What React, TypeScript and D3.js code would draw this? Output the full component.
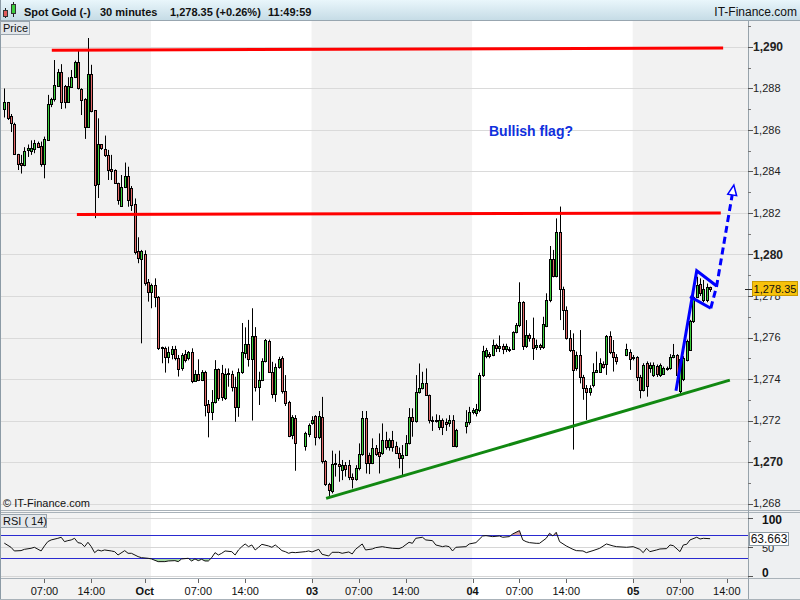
import React from 'react'
import * as d3 from 'd3'

// one 30 minute candle: open, high, low, close (null = no trading in that slot)
type Candle = [number, number, number, number] | null

const sep29: Candle[] = [
  [1287.0, 1288.0, 1286.6, 1287.33], [1287.33, 1287.35, 1286.48, 1286.6], [1286.67, 1286.77, 1285.9, 1286.35],
  [1286.3, 1286.35, 1284.8, 1284.83], [1284.83, 1284.85, 1284.07, 1284.36], [1284.4, 1284.8, 1283.9, 1284.3],
  [1284.3, 1285.17, 1284.25, 1285.0], [1285.04, 1285.3, 1284.7, 1285.15], [1285.0, 1285.5, 1284.8, 1285.15],
  [1285.1, 1285.52, 1284.88, 1285.36], [1285.36, 1285.44, 1285.15, 1285.2], [1285.23, 1285.44, 1284.23, 1284.35],
  [1284.35, 1285.68, 1283.67, 1285.55], [1285.52, 1287.69, 1285.47, 1287.24], [1287.25, 1287.55, 1287.1, 1287.5],
  [1287.5, 1289.37, 1287.37, 1288.17], [1288.14, 1288.94, 1288.1, 1288.81], [1288.81, 1289.17, 1287.01, 1287.37],
  [1288.14, 1288.17, 1287.04, 1287.37], [1287.37, 1288.54, 1287.33, 1288.12], [1288.09, 1288.89, 1288.05, 1288.54],
  [1288.54, 1289.34, 1288.5, 1289.26], [1289.26, 1289.9, 1287.95, 1288.01], [1287.98, 1288.01, 1286.72, 1287.42],
  [1287.5, 1287.53, 1285.57, 1286.13], [1286.16, 1290.43, 1286.1, 1288.7], [1288.7, 1289.14, 1286.85, 1286.9],
  [1286.96, 1286.96, 1281.75, 1283.35], [1283.38, 1286.56, 1282.72, 1285.3], [1285.3, 1285.32, 1285.04, 1285.15],
  [1285.1, 1285.73, 1284.7, 1284.78], [1284.78, 1285.04, 1283.59, 1284.09], [1284.12, 1284.8, 1283.59, 1284.04],
  [1284.07, 1284.1, 1283.4, 1283.46], [1283.43, 1283.46, 1282.4, 1282.63], [1282.35, 1283.83, 1282.3, 1283.27],
  [1283.24, 1284.43, 1283.2, 1283.79], [1283.79, 1284.23, 1282.3, 1282.63], [1283.2, 1283.3, 1282.1, 1282.4],
  [1282.44, 1282.7, 1280.0, 1280.14], [1280.19, 1280.83, 1279.58, 1279.82], [1279.77, 1280.22, 1275.72, 1280.19],
]

const oct2: Candle[] = [
  [1280.03, 1280.2, 1278.5, 1278.61], [1278.66, 1278.82, 1277.73, 1278.18], [1278.18, 1278.6, 1277.41, 1278.52],
  [1278.52, 1278.85, 1277.46, 1277.97], [1277.97, 1278.0, 1275.4, 1275.48], [1275.55, 1275.56, 1274.76, 1275.5],
  [1275.48, 1275.56, 1274.31, 1275.08], [1275.08, 1275.56, 1274.76, 1275.3], [1275.23, 1275.59, 1274.95, 1275.43],
  [1275.45, 1275.6, 1274.9, 1275.0], [1275.0, 1275.16, 1274.12, 1274.47], [1274.52, 1275.25, 1274.4, 1275.14],
  [1275.19, 1275.4, 1274.8, 1274.92], [1275.0, 1275.35, 1274.9, 1275.29], [1275.32, 1275.48, 1273.8, 1273.92],
  [1273.92, 1274.43, 1273.87, 1274.22], [1274.22, 1274.95, 1273.9, 1273.95], [1273.95, 1274.43, 1273.9, 1274.32],
  [1274.32, 1274.4, 1272.2, 1272.75], [1272.8, 1272.99, 1271.19, 1272.43], [1272.43, 1273.47, 1272.02, 1272.87],
  [1272.87, 1274.91, 1272.82, 1274.48], [1274.48, 1274.51, 1272.95, 1273.07], [1274.3, 1274.68, 1272.95, 1273.15],
  [1273.07, 1274.51, 1272.99, 1274.22], [1274.3, 1274.51, 1273.63, 1274.22], [1274.26, 1274.4, 1273.4, 1273.63],
  [1273.6, 1274.11, 1271.94, 1272.63], [1272.63, 1274.51, 1272.18, 1274.32], [1274.32, 1276.7, 1274.25, 1275.28],
  [1275.24, 1276.49, 1275.0, 1275.69], [1275.69, 1276.85, 1274.6, 1274.95], [1274.95, 1277.41, 1272.0, 1276.08],
  [1276.08, 1276.5, 1273.4, 1273.63], [1273.63, 1274.35, 1272.75, 1273.95], [1273.95, 1275.0, 1273.9, 1274.88],
  [1274.88, 1275.93, 1274.8, 1275.88], [1275.83, 1275.9, 1274.3, 1274.35], [1274.35, 1274.83, 1273.07, 1273.3],
  [1273.3, 1274.75, 1272.9, 1274.6], [1274.6, 1275.07, 1274.5, 1274.95], [1275.0, 1275.1, 1273.3, 1273.44],
  [1273.44, 1274.19, 1272.7, 1272.83], [1272.91, 1272.95, 1271.2, 1271.25], [1271.3, 1272.26, 1271.1, 1272.18],
  [1272.13, 1272.26, 1269.58, 1270.9], null, null,
]

const oct3: Candle[] = [
  [1270.79, 1271.46, 1270.55, 1271.38], [1271.35, 1271.86, 1271.2, 1271.78], [1271.86, 1272.21, 1271.8, 1272.02],
  [1272.21, 1272.26, 1270.8, 1271.19], [1271.2, 1272.46, 1271.1, 1272.22], [1272.15, 1273.14, 1269.93, 1270.06],
  [1270.06, 1270.1, 1268.85, 1268.92], [1268.92, 1269.0, 1268.3, 1268.65], [1268.62, 1270.55, 1268.49, 1269.93],
  [1269.9, 1270.4, 1269.3, 1269.95], [1269.93, 1270.55, 1269.05, 1269.82], [1269.6, 1270.1, 1269.13, 1269.85],
  [1269.85, 1270.0, 1269.3, 1269.65], [1269.88, 1270.1, 1269.13, 1269.26], [1269.26, 1269.45, 1268.73, 1269.18],
  [1269.18, 1269.85, 1269.1, 1269.73], [1269.7, 1270.9, 1269.6, 1270.38], [1270.38, 1272.46, 1270.3, 1272.13],
  [1272.13, 1272.46, 1269.45, 1269.97], [1270.34, 1270.45, 1269.42, 1269.97], [1269.97, 1271.14, 1269.9, 1270.66],
  [1270.66, 1270.82, 1270.3, 1270.38], [1270.5, 1271.38, 1269.45, 1270.29], [1270.42, 1271.86, 1270.35, 1271.06],
  [1271.06, 1271.46, 1270.6, 1270.74], [1270.74, 1271.14, 1270.55, 1271.06], [1271.06, 1271.5, 1270.5, 1270.74],
  [1270.77, 1270.98, 1270.4, 1270.45], [1270.45, 1270.7, 1269.7, 1270.18], [1270.18, 1270.82, 1269.37, 1270.34],
  [1270.34, 1271.3, 1270.3, 1270.9], [1270.9, 1272.6, 1270.85, 1272.15], [1272.15, 1272.59, 1271.22, 1271.97],
  [1271.97, 1274.19, 1271.9, 1273.39], [1273.39, 1274.75, 1273.3, 1273.55], [1273.55, 1274.35, 1273.5, 1273.79],
  [1273.79, 1274.51, 1273.2, 1273.23], [1273.23, 1273.25, 1271.86, 1272.05], [1272.05, 1272.2, 1271.5, 1272.0],
  [1272.0, 1272.3, 1271.9, 1272.05], [1271.67, 1272.26, 1271.54, 1272.02], [1272.02, 1272.1, 1271.3, 1271.67],
  [1271.94, 1272.1, 1271.5, 1271.83], [1271.86, 1272.26, 1271.7, 1272.02], [1272.02, 1272.26, 1270.74, 1270.79],
  [1270.79, 1271.6, 1270.7, 1271.54], null, null,
]

const oct4: Candle[] = [
  [1271.73, 1272.5, 1271.38, 1271.94], [1271.94, 1272.66, 1271.8, 1272.42], [1272.42, 1272.6, 1272.3, 1272.5],
  [1272.34, 1272.8, 1272.2, 1272.55], [1272.5, 1274.3, 1272.4, 1274.19], [1274.19, 1275.6, 1274.1, 1275.36],
  [1275.1, 1275.5, 1275.0, 1275.4], [1275.2, 1275.3, 1275.0, 1275.1], [1275.15, 1275.9, 1275.1, 1275.64],
  [1275.64, 1275.7, 1275.3, 1275.48], [1275.48, 1276.1, 1275.3, 1275.6], [1275.6, 1275.7, 1275.2, 1275.45],
  [1275.45, 1275.7, 1275.3, 1275.6], [1275.45, 1275.55, 1275.3, 1275.45], [1275.45, 1276.3, 1275.4, 1276.25],
  [1276.25, 1276.7, 1276.2, 1276.6], [1276.6, 1278.66, 1276.5, 1277.7], [1277.7, 1277.75, 1275.4, 1275.6],
  [1275.6, 1276.84, 1275.5, 1276.12], [1276.12, 1276.2, 1275.8, 1275.96], [1275.99, 1276.96, 1274.92, 1275.48],
  [1275.53, 1275.9, 1275.4, 1275.64], [1275.64, 1275.7, 1275.4, 1275.53], [1275.53, 1277.0, 1275.45, 1276.63],
  [1276.55, 1278.13, 1276.5, 1277.81], [1277.81, 1280.41, 1277.7, 1279.77], [1279.77, 1280.22, 1278.9, 1278.98],
  [1278.98, 1281.74, 1278.9, 1281.07], [1281.07, 1282.31, 1276.84, 1278.34], [1278.34, 1278.45, 1276.36, 1277.33],
  [1277.33, 1277.5, 1275.9, 1275.96], [1275.96, 1276.36, 1275.3, 1275.4], [1275.4, 1276.2, 1270.6, 1274.44],
  [1274.52, 1275.32, 1274.4, 1275.16], [1275.16, 1276.36, 1273.79, 1274.08], [1274.08, 1274.2, 1273.0, 1273.55],
  [1273.55, 1273.71, 1272.03, 1273.39], [1273.39, 1273.7, 1273.2, 1273.55], [1273.71, 1274.76, 1273.6, 1274.36],
  [1274.36, 1275.32, 1274.3, 1274.44], [1274.36, 1275.0, 1274.3, 1274.79], [1274.73, 1274.85, 1274.5, 1274.6],
  [1274.73, 1276.12, 1274.2, 1276.09], [1276.09, 1276.3, 1275.2, 1275.29], [1275.29, 1275.88, 1274.36, 1275.05],
  [1275.05, 1275.2, 1274.7, 1274.88], null, null,
]

const oct5: Candle[] = [
  [1275.16, 1275.7, 1275.1, 1275.43], [1275.32, 1275.43, 1274.44, 1274.95], [1275.08, 1275.16, 1274.9, 1275.0],
  [1275.08, 1275.1, 1273.9, 1274.08], [1274.12, 1274.2, 1273.07, 1273.47], [1273.47, 1274.76, 1273.4, 1274.68],
  [1274.79, 1274.85, 1273.15, 1273.67], [1274.52, 1274.8, 1274.3, 1274.68], [1274.2, 1274.8, 1274.1, 1274.68],
  [1274.63, 1274.7, 1274.1, 1274.25], [1274.2, 1274.75, 1274.1, 1274.68], [1274.25, 1274.6, 1274.2, 1274.52],
  [1274.52, 1274.6, 1274.4, 1274.5], [1274.52, 1275.2, 1274.45, 1275.08], [1275.05, 1275.69, 1275.0, 1275.16],
  [1275.16, 1275.2, 1274.1, 1274.2], [1273.4, 1275.0, 1273.3, 1274.95], [1274.0, 1275.1, 1273.9, 1275.0],
  [1274.92, 1275.9, 1274.85, 1275.85], [1275.4, 1276.85, 1275.35, 1276.8], [1276.8, 1278.29, 1276.7, 1277.97],
  [1277.97, 1278.93, 1277.9, 1278.53], [1278.56, 1278.85, 1278.0, 1278.13], [1277.81, 1278.77, 1277.7, 1278.32],
  [1277.81, 1278.6, 1277.7, 1278.42], [1278.42, 1278.45, 1278.2, 1278.35],
]

const candles: Candle[] = [...sep29, ...oct2, ...oct3, ...oct4, ...oct5]

// time axis (slot = 30 minute step)
const dayStartSlots = [44, 92, 140, 188]
const timeTickSlots = [12, 26, 42, 58, 72, 92, 106, 120, 140, 154, 168, 188, 202, 216]
const timeTickLabels = ['07:00', '14:00', 'Oct', '07:00', '14:00', '03', '07:00', '14:00', '04', '07:00', '14:00', '05', '07:00', '14:00']
const boldTimeLabels = ['Oct', '03', '04', '05']

const priceTicks = [1268, 1270, 1272, 1274, 1276, 1278, 1280, 1282, 1284, 1286, 1288, 1290]
const minorPriceTicks = [1269, 1271, 1273, 1275, 1277, 1279, 1281, 1283, 1285, 1287, 1289, 1291]
const boldPrices = [1270, 1280, 1290]
const lastPrice = 1278.35
const lastRsi = 63.663

// RSI(14)
const rsiSlots = [0, 2, 3, 5, 6, 8, 9, 11, 12, 13, 14, 16, 17, 18, 19, 20, 21, 22, 23, 24, 25, 26, 27, 28, 29, 30, 32, 33, 34, 36, 37, 38, 40, 41, 43, 44, 46, 48, 49, 51, 52, 53, 55, 56, 57, 58, 59, 60, 61, 62, 63, 64, 65, 66, 68, 69, 70, 71, 72, 73, 74, 75, 76, 77, 79, 80, 81, 82, 83, 84, 85, 86, 87, 90, 91, 92, 94, 95, 97, 98, 100, 101, 103, 104, 105, 107, 108, 110, 111, 113, 114, 116, 118, 119, 121, 122, 123, 125, 126, 128, 129, 131, 132, 133, 134, 135, 138, 139, 141, 143, 144, 146, 148, 149, 151, 152, 154, 155, 156, 157, 159, 160, 162, 163, 164, 165, 166, 168, 170, 171, 173, 174, 176, 178, 180, 182, 183, 186, 188, 190, 191, 192, 193, 195, 196, 198, 199, 200, 202, 203, 204, 205, 207, 208, 209, 211]
const rsiValues = [56, 48.9, 42.6, 43.2, 45.4, 47.2, 48.9, 42.6, 51.2, 58.6, 61.5, 64.3, 66.1, 58.6, 60.3, 61.5, 64.3, 56.9, 55.7, 50, 57.5, 50, 39.7, 44.3, 42.6, 44.3, 42.6, 41.4, 35.7, 43.2, 38.6, 38.6, 32.9, 31.1, 30, 28.9, 24.3, 24.3, 25.4, 26, 24.3, 28.9, 30, 25.4, 28.9, 26, 28.3, 25.4, 25.4, 31.1, 39.7, 35.7, 38.6, 42.6, 41.4, 35.7, 44.3, 50, 54.6, 50, 52.9, 44.3, 48.9, 54, 51.2, 48.9, 52.9, 48.3, 43.2, 41.4, 38.6, 40.3, 39.7, 41.4, 42.6, 40.9, 45.4, 36.9, 34, 40.3, 40.3, 38.6, 40.9, 37.4, 45.4, 54.6, 44.3, 46, 48.3, 50, 48.9, 47.2, 46.6, 48.9, 57.5, 55.7, 64.3, 66.1, 61.5, 60.3, 52.9, 50, 51.2, 50, 42.6, 48.9, 50, 54.6, 56.9, 68.3, 68.9, 67.2, 68.3, 66.1, 67.2, 71.8, 77.5, 61.5, 58.6, 56.9, 55.7, 55.7, 64.3, 72.9, 68.3, 74.6, 58.6, 51.2, 45.4, 43.2, 42.6, 39.7, 43.2, 47.2, 54.6, 51.2, 50, 48.9, 50, 45.4, 39.7, 47.2, 41.4, 44.3, 46, 46.6, 52.9, 51.7, 41.4, 52.9, 54, 61.5, 66.1, 63.2, 64.3, 63.663]
const rsiLevels = [30, 70]
const rsiGrid = [0, 50, 100]

// hand drawn annotations as [slot, price]
const resistanceTop: [number, number][] = [[14.2, 1289.84], [214.9, 1289.95]]
const resistanceMid: [number, number][] = [[21.7, 1281.93], [214.2, 1282.0]]
const supportLine: [number, number][] = [[96.2, 1268.25], [216.9, 1273.95]]
const flagUpper: [number, number][] = [[200.8, 1273.44], [207, 1279.22], [212.96, 1278.48]]
const flagLower: [number, number][] = [[205, 1277.97], [211.2, 1277.41]]
const flagTarget: [number, number][] = [[211.2, 1277.41], [212.96, 1278.48], [217.6, 1282.87]]
const noteAt: [number, number] = [144.9, 1285.7]

export default function App() {
  const W = 800
  const H = 600
  const plotRight = 748
  const mainTop = 21
  const mainBottom = 510
  const rsiTop = 513
  const rsiBottom = 578
  const font = '"Liberation Sans", Arial, sans-serif'
  const green = '#3ccf3c'
  const red = '#e46a6a'
  const crisp = (v: number) => Math.round(v) + 0.5

  const x = d3.scaleLinear().domain([0, 211]).range([4.3, 710.1])
  const y = d3.scaleLinear().domain([1267.69, 1291.25]).range([mainBottom, mainTop])
  const yR = d3.scaleLinear().domain([0, 100]).range([575.8, 517.5])

  const edges = [1, ...dayStartSlots.map(s => x(s) - 0.5), plotRight]
  const bands: [number, number][] = []
  for (let k = 0; k < edges.length - 1; k += 2) bands.push([edges[k], edges[k + 1]])

  const pLine = d3.line<[number, number]>().x(d => x(d[0])).y(d => y(d[1]))

  const rsiPts = rsiSlots.map((s, k) => [x(s), yR(rsiValues[k])] as [number, number])
  const rsiPath = d3.line()(rsiPts) || ''
  const lowArea = d3.area<[number, number]>().x(d => d[0]).y0(yR(30)).y1(d => d[1])(rsiPts) || ''
  const highArea = d3.area<[number, number]>().x(d => d[0]).y0(yR(70)).y1(d => d[1])(rsiPts) || ''

  // arrow head on the dashed target line
  const tp = flagTarget.map(([s, p]) => [x(s), y(p)])
  const [ax, ay] = tp[tp.length - 1]
  const [bx, by] = tp[tp.length - 2]
  const len = Math.hypot(ax - bx, ay - by)
  const ux = (ax - bx) / len
  const uy = (ay - by) / len
  const head = [
    [ax + ux * 10, ay + uy * 10],
    [ax - uy * 4.5, ay + ux * 4.5],
    [ax + uy * 4.5, ay - ux * 4.5],
  ].map(p => p.join(',')).join(' ')

  const fmt = d3.format(',')
  const fmtLast = d3.format(',.2f')

  return (
    <div style={{ position: 'absolute', left: 0, top: 0 }}>
      <svg width={W} height={H} style={{ display: 'block', fontFamily: font }}>
        <defs>
          <linearGradient id="hdr" x1="0" y1="0" x2="0" y2="1">
            <stop offset="0" stopColor="#e9f6fb" />
            <stop offset="1" stopColor="#c6dce6" />
          </linearGradient>
          <clipPath id="mainClip">
            <rect x={1} y={mainTop} width={plotRight - 1} height={mainBottom - mainTop} />
          </clipPath>
          <clipPath id="lowClip">
            <rect x={1} y={yR(30)} width={plotRight - 1} height={rsiBottom - yR(30)} />
          </clipPath>
          <clipPath id="highClip">
            <rect x={1} y={rsiTop} width={plotRight - 1} height={yR(70) - rsiTop} />
          </clipPath>
        </defs>

        <rect x={0} y={0} width={W} height={H} fill="#ffffff" />
        {bands.map(([a, b], k) => (
          <rect key={k} x={a} y={mainTop} width={b - a} height={H - mainTop} fill="#f2f2f2" />
        ))}
        <rect x={plotRight} y={mainTop} width={W - plotRight} height={H - mainTop} fill="#eef0f2" />

        {/* header */}
        <rect x={0} y={0} width={W} height={20} fill="url(#hdr)" />
        <line x1={0} x2={W} y1={20.5} y2={20.5} stroke="#98a6b0" />
        <line x1={5.5} x2={5.5} y1={8} y2={18} stroke="#222" />
        <rect x={3.5} y={10.5} width={4} height={6} fill="#e05a5a" stroke="#333" />
        <line x1={13.5} x2={13.5} y1={2} y2={17} stroke="#222" />
        <rect x={11.5} y={4.5} width={4} height={9} fill="#3ccf3c" stroke="#333" />
        <g fontSize={11} fontWeight="bold" fill="#111">
          <text x={24} y={16}>Spot Gold (-)</text>
          <text x={100} y={16}>30 minutes</text>
          <text x={170} y={16}>1,278.35 (+0.26%)</text>
          <text x={268} y={16}>11:49:59</text>
        </g>
        <text x={797} y={16} fontSize={12} textAnchor="end" fill="#111">IT-Finance.com</text>

        {/* grid */}
        {priceTicks.map(p => (
          <line key={p} x1={1} x2={plotRight} y1={crisp(y(p))} y2={crisp(y(p))} stroke="#dadada" />
        ))}
        {rsiGrid.map(v => (
          <line key={v} x1={1} x2={plotRight} y1={crisp(yR(v))} y2={crisp(yR(v))} stroke="#d6d6d6" />
        ))}

        {/* candles */}
        <g clipPath="url(#mainClip)">
          {candles.map((c, i) => {
            if (!c) return null
            const [o, h, l, cl] = c
            const cx = Math.round(x(i))
            const top = Math.round(y(Math.max(o, cl)))
            const bot = Math.round(y(Math.min(o, cl)))
            return (
              <g key={i}>
                <line x1={cx + 0.5} x2={cx + 0.5} y1={y(h)} y2={y(l)} stroke="#000" />
                <rect x={cx - 0.5} y={top + 0.5} width={2} height={Math.max(bot - top, 1)}
                  fill={cl >= o ? green : red} stroke="#000" />
              </g>
            )
          })}

          {/* annotations */}
          <path d={pLine(resistanceTop) || ''} stroke="#ff0000" strokeWidth={3} fill="none" />
          <path d={pLine(resistanceMid) || ''} stroke="#ff0000" strokeWidth={3} fill="none" />
          <path d={pLine(supportLine) || ''} stroke="#118811" strokeWidth={3} fill="none" />
          <path d={pLine(flagUpper) || ''} stroke="#0000ff" strokeWidth={3} fill="none" strokeLinejoin="miter" />
          <path d={pLine(flagLower) || ''} stroke="#0000ff" strokeWidth={3} fill="none" />
          <path d={pLine(flagTarget) || ''} stroke="#0000ff" strokeWidth={3} fill="none" strokeDasharray="7,4" />
          <polygon points={head} fill="#ffffff" stroke="#0000ff" strokeWidth={1.5} />
          <text x={x(noteAt[0])} y={y(noteAt[1])} fontSize={14} fontWeight="bold" fill="#1030dd">Bullish flag?</text>
        </g>

        {/* RSI panel */}
        <path d={lowArea} clipPath="url(#lowClip)" fill="#a6d8a2" />
        <path d={highArea} clipPath="url(#highClip)" fill="#d9a3a3" />
        {rsiLevels.map(v => (
          <line key={v} x1={1} x2={plotRight} y1={crisp(yR(v))} y2={crisp(yR(v))} stroke="#2a2ad0" />
        ))}
        <path d={rsiPath} fill="none" stroke="#111" strokeWidth={1} />

        {/* panel borders */}
        <line x1={0} x2={W} y1={510.5} y2={510.5} stroke="#a9b2b9" />
        <line x1={0} x2={W} y1={512.5} y2={512.5} stroke="#a9b2b9" />
        <line x1={0} x2={W} y1={rsiBottom + 0.5} y2={rsiBottom + 0.5} stroke="#a9b2b9" />
        <line x1={0.5} x2={0.5} y1={0} y2={H} stroke="#8c9ba6" />
        <line x1={plotRight + 0.5} x2={plotRight + 0.5} y1={mainTop} y2={H} stroke="#98a3ab" />
        <line x1={0} x2={W} y1={H - 0.5} y2={H - 0.5} stroke="#a9b2b9" />

        {/* price axis */}
        {minorPriceTicks.map(p => (
          <line key={p} x1={plotRight} x2={plotRight + 3} y1={crisp(y(p))} y2={crisp(y(p))} stroke="#777" />
        ))}
        {priceTicks.map(p => (
          <g key={p}>
            <line x1={plotRight} x2={plotRight + 5} y1={crisp(y(p))} y2={crisp(y(p))} stroke="#555" />
            <text x={753} y={y(p)} dy="0.35em" fontSize={boldPrices.includes(p) ? 12 : 11}
              fontWeight={boldPrices.includes(p) ? 'bold' : 'normal'} fill="#222">{fmt(p)}</text>
          </g>
        ))}
        <line x1={plotRight - 3} x2={plotRight + 5} y1={crisp(y(lastPrice))} y2={crisp(y(lastPrice))} stroke="#222" />
        <rect x={752.5} y={Math.round(y(lastPrice)) - 7.5} width={45} height={14} fill="#f7c20c" stroke="#c99a00" />
        <text x={775} y={y(lastPrice)} dy="0.37em" fontSize={11} textAnchor="middle" fill="#111">{fmtLast(lastPrice)}</text>

        {/* RSI axis */}
        {rsiGrid.map(v => (
          <line key={v} x1={plotRight} x2={plotRight + 5} y1={crisp(yR(v))} y2={crisp(yR(v))} stroke="#555" />
        ))}
        <text x={762} y={yR(100) + 2} dy="0.35em" fontSize={12} fontWeight="bold" fill="#111">100</text>
        <text x={762} y={yR(50) + 1} dy="0.35em" fontSize={11} fill="#222">50</text>
        <text x={762} y={yR(0) - 3} dy="0.35em" fontSize={12} fontWeight="bold" fill="#111">0</text>
        <rect x={749.5} y={Math.round(yR(lastRsi)) - 6.5} width={39} height={13} fill="#ffffff" stroke="#8c9aa4" />
        <text x={769} y={yR(lastRsi)} dy="0.36em" fontSize={12} textAnchor="middle" fill="#111">{lastRsi}</text>

        {/* time axis */}
        {timeTickSlots.map((s, k) => (
          <g key={k}>
            <line x1={crisp(x(s))} x2={crisp(x(s))} y1={rsiBottom + 1} y2={rsiBottom + 5} stroke="#666" />
            <text x={x(s)} y={595} fontSize={11} textAnchor="middle" fill="#111"
              fontWeight={boldTimeLabels.includes(timeTickLabels[k]) ? 'bold' : 'normal'}>{timeTickLabels[k]}</text>
          </g>
        ))}

        {/* labels */}
        <rect x={0.5} y={21.5} width={29} height={13} fill="#e3e7eb" stroke="#9aa5ae" />
        <text x={3} y={32} fontSize={11} fill="#111">Price</text>
        <rect x={0.5} y={514.5} width={46} height={13} fill="#e3e7eb" stroke="#9aa5ae" />
        <text x={3} y={525} fontSize={11} fill="#111">RSI ( 14)</text>
        <text x={3} y={507} fontSize={11} fill="#111">© IT-Finance.com</text>
      </svg>
    </div>
  )
}
